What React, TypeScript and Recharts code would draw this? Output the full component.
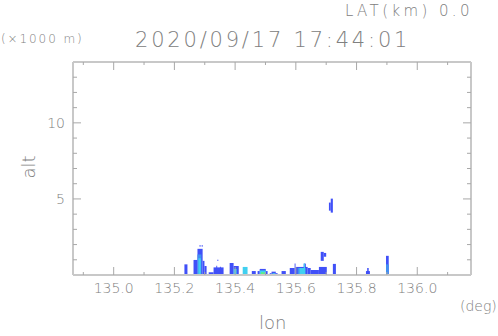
import { ComposedChart, ReferenceArea, XAxis, YAxis } from 'recharts'

// radar echo cells, each [lon from, lon to, alt from, alt to] (x1000 m)
const blueCells: number[][] = [
  [135.233, 135.243, 0, 0.7],
  [135.263, 135.276, 0, 0.99],
  [135.276, 135.293, 0, 1.72],
  [135.293, 135.299, 0, 0.93],
  [135.299, 135.306, 0, 0.59],
  [135.283, 135.286, 1.85, 1.98],
  [135.29, 135.293, 1.85, 1.98],
  [135.341, 135.345, 0.93, 1.0],
  [135.313, 135.329, 0, 0.18],
  [135.329, 135.362, 0, 0.5],
  [135.338, 135.341, 0, 0.6],
  [135.35, 135.353, 0, 0.55],
  [135.382, 135.395, 0, 0.79],
  [135.395, 135.412, 0, 0.59],
  [135.455, 135.468, 0, 0.26],
  [135.474, 135.481, 0, 0.26],
  [135.481, 135.501, 0, 0.4],
  [135.501, 135.507, 0, 0.26],
  [135.514, 135.52, 0, 0.12],
  [135.52, 135.534, 0, 0.22],
  [135.534, 135.54, 0, 0.12],
  [135.553, 135.567, 0, 0.26],
  [135.58, 135.596, 0, 0.46],
  [135.596, 135.599, 0, 0.75],
  [135.599, 135.639, 0, 0.53],
  [135.626, 135.633, 0, 0.75],
  [135.639, 135.649, 0, 0.46],
  [135.649, 135.676, 0, 0.33],
  [135.676, 135.702, 0, 0.53],
  [135.682, 135.692, 0.93, 1.52],
  [135.692, 135.7, 1.2, 1.45],
  [135.722, 135.732, 0, 0.73],
  [135.715, 135.722, 4.1, 5.02],
  [135.709, 135.715, 4.23, 4.76],
  [135.831, 135.844, 0, 0.26],
  [135.835, 135.84, 0, 0.46],
  [135.897, 135.906, 0, 1.26],
]
const midCells: number[][] = [
  [135.276, 135.289, 0, 1.35],
  [135.897, 135.906, 0, 0.7],
  [135.606, 135.633, 0, 0.46],
]
const cyanCells: number[][] = [
  [135.279, 135.287, 0, 1.1],
  [135.395, 135.405, 0, 0.4],
  [135.425, 135.441, 0, 0.53],
  [135.481, 135.501, 0, 0.3],
  [135.523, 135.532, 0, 0.12],
  [135.612, 135.63, 0, 0.46],
  [135.626, 135.63, 0, 0.75],
]
const greenCells: number[][] = [
  [135.485, 135.497, 0, 0.18],
]

const xTicks = [134.9, 135.0, 135.1, 135.2, 135.3, 135.4, 135.5, 135.6, 135.7, 135.8, 135.9, 136.0, 136.1]
const xLabels = [135.0, 135.2, 135.4, 135.6, 135.8, 136.0]
const yTicks = [1, 2, 3, 4, 5, 6, 7, 8, 9, 10, 11, 12, 13]
const yLabels = [5, 10]

const FRAME = '#c8c8c8'
const TICK = '#a8a8a8'
const TEXT = '#808080'
const FONT = "'DejaVu Sans', sans-serif"

const rows = [...blueCells, ...midCells, ...cyanCells, ...greenCells].map((c) => ({ lon: c[0], alt: c[3] }))

const BottomTick = (p: any) => {
  const v = p.payload.value
  const major = xLabels.includes(v)
  return (
    <g>
      <line x1={p.x} x2={p.x} y1={p.y} y2={p.y - (major ? 8 : 3)} stroke={TICK} />
      {major && (
        <text x={p.x} y={p.y + 18} textAnchor="middle" fontSize={14} fontWeight={200} fontFamily={FONT} fill={TEXT}>
          {v.toFixed(1)}
        </text>
      )}
    </g>
  )
}
const TopTick = (p: any) => {
  const major = xLabels.includes(p.payload.value)
  return <line x1={p.x} x2={p.x} y1={p.y} y2={p.y + (major ? 8 : 3)} stroke={TICK} />
}
const LeftTick = (p: any) => {
  const v = p.payload.value
  const major = yLabels.includes(v)
  return (
    <g>
      <line x1={p.x} x2={p.x + (major ? 8 : 4)} y1={p.y} y2={p.y} stroke={TICK} />
      {major && (
        <text x={65} y={p.y + 5} textAnchor="end" fontSize={14} fontWeight={200} fontFamily={FONT} fill={TEXT}>
          {v}
        </text>
      )}
    </g>
  )
}
const RightTick = (p: any) => {
  const major = yLabels.includes(p.payload.value)
  return <line x1={p.x} x2={p.x - (major ? 8 : 4)} y1={p.y} y2={p.y} stroke={TICK} />
}

const cells = (list: number[][], color: string, key: string) =>
  list.map((c, i) => (
    <ReferenceArea key={key + i} xAxisId="b" yAxisId="l" x1={c[0]} x2={c[1]} y1={c[2]} y2={c[3]}
      fill={color} fillOpacity={1} stroke="none" ifOverflow="visible" />
  ))

export default function App() {
  return (
    <div style={{ position: 'absolute', left: 0, top: 0, width: 498, height: 336, background: '#fff' }}>
      <ComposedChart width={498} height={336} data={rows} margin={{ top: 0, right: 0, bottom: 0, left: 0 }}>
        <XAxis xAxisId="b" dataKey="lon" type="number" orientation="bottom" domain={[134.866, 136.177]} ticks={xTicks}
          interval={0} height={61} tickSize={0} tickMargin={0} tickLine={false} tick={BottomTick}
          axisLine={{ stroke: FRAME, strokeWidth: 2 }} allowDataOverflow />
        <XAxis xAxisId="t" dataKey="lon" type="number" orientation="top" domain={[134.866, 136.177]} ticks={xTicks}
          interval={0} height={62} tickSize={0} tickMargin={0} tickLine={false} tick={TopTick}
          axisLine={{ stroke: FRAME, strokeWidth: 2 }} allowDataOverflow />
        <YAxis yAxisId="l" dataKey="alt" type="number" orientation="left" domain={[0, 14]} ticks={yTicks}
          interval={0} width={73} tickSize={0} tickMargin={0} tickLine={false} tick={LeftTick}
          axisLine={{ stroke: FRAME, strokeWidth: 2 }} allowDataOverflow />
        <YAxis yAxisId="r" dataKey="alt" type="number" orientation="right" domain={[0, 14]} ticks={yTicks}
          interval={0} width={27} tickSize={0} tickMargin={0} tickLine={false} tick={RightTick}
          axisLine={{ stroke: FRAME, strokeWidth: 2 }} allowDataOverflow />
        {cells(blueCells, '#4050f8', 'b')}
        {cells(midCells, '#4090f0', 'm')}
        {cells(cyanCells, '#40d0f0', 'c')}
        {cells(greenCells, '#60f080', 'g')}
      </ComposedChart>
      <svg width={498} height={336} style={{ position: 'absolute', left: 0, top: 0, pointerEvents: 'none' }}>
        <g fontFamily={FONT} fontWeight={200} fill={TEXT}>
          <text x={345} y={16} fontSize={15} letterSpacing={3.4}>LAT(km) 0.0</text>
          <text x={1} y={43} fontSize={12} letterSpacing={1.9}>(×1000 m)</text>
          <text x={135} y={47} fontSize={21} letterSpacing={2.8}>2020/09/17 17:44:01</text>
          <text x={35} y={167} fontSize={18} textAnchor="middle" transform="rotate(-90 35 167)">alt</text>
          <text x={259} y={329} fontSize={18}>lon</text>
          <text x={460} y={311} fontSize={14}>(deg)</text>
        </g>
      </svg>
    </div>
  )
}
